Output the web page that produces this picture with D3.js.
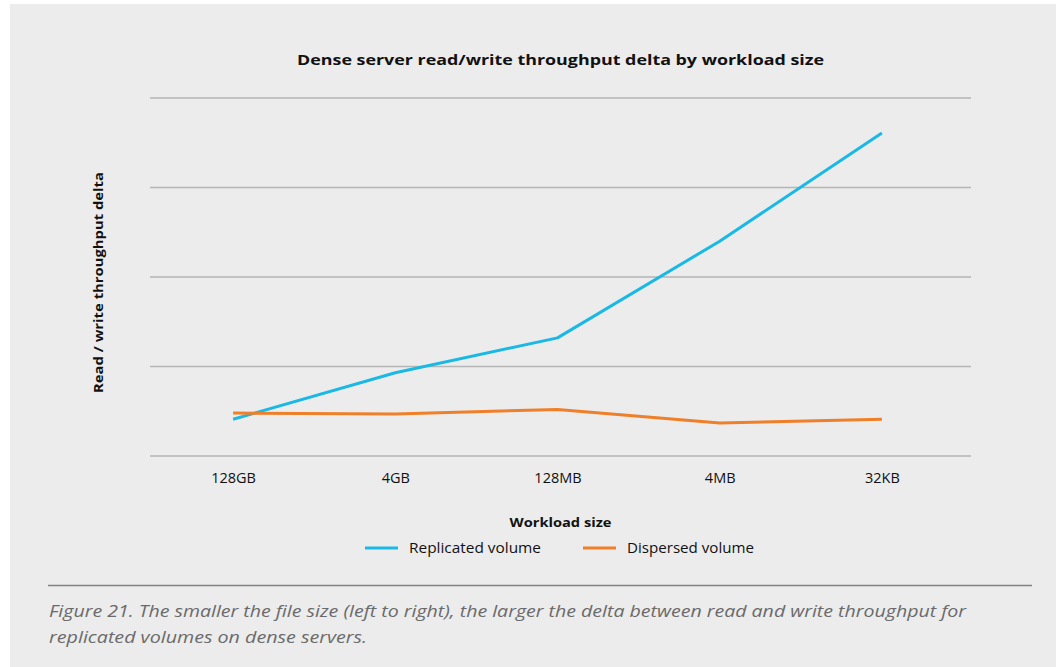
<!DOCTYPE html>
<html>
<head>
<meta charset="utf-8">
<script src="https://cdn.jsdelivr.net/npm/d3@7"></script>
<style>
html,body{margin:0;padding:0;background:#fff;}
svg{display:block;}
</style>
</head>
<body>
<script>
const categories = ["128GB", "4GB", "128MB", "4MB", "32KB"];
const replicated = [0.41, 0.93, 1.32, 2.40, 3.61];
const dispersed = [0.48, 0.47, 0.52, 0.37, 0.41];
const yTicks = [0, 1, 2, 3, 4];
const seriesNames = ["Replicated volume", "Dispersed volume"];
const seriesColors = ["#1ab9e5", "#ef7f29"];

(function () {
const W = 1059, H = 667;
const svg = d3.select("body").append("svg").attr("width", W).attr("height", H);

svg.append("rect").attr("x", 10).attr("y", 4).attr("width", 1046).attr("height", 663).attr("fill", "#ececec");

const pLeft = 150, pRight = 971, pTop = 98, pBottom = 456;
const x = d3.scalePoint().domain(categories).range([152, 963]).padding(0.5);
const y = d3.scaleLinear().domain([0, 4]).range([pBottom, pTop]);

// gridlines
svg.append("g").selectAll("line").data(yTicks).join("line")
  .attr("x1", pLeft).attr("x2", pRight)
  .attr("y1", d => y(d)).attr("y2", d => y(d))
  .attr("stroke", "#b5b5b5").attr("stroke-width", 1.5);

// x axis labels
const xAxis = d3.axisBottom(x).tickSize(0).tickPadding(0);
const gx = svg.append("g").attr("transform", `translate(0,${pBottom})`).call(xAxis);
gx.select(".domain").remove();
gx.selectAll("text").attr("y", 27).attr("dy", 0)
  .attr("font-family", "Open Sans, sans-serif").attr("font-size", 14.5).attr("fill", "#111");

// title
svg.append("text").attr("x", 560.5).attr("y", 65).attr("text-anchor", "middle")
  .attr("font-family", "Open Sans, sans-serif").attr("font-weight", "bold").attr("font-size", 15)
  .attr("fill", "#111").attr("textLength", 527).attr("lengthAdjust", "spacingAndGlyphs")
  .text("Dense server read/write throughput delta by workload size");

// y axis title
svg.append("text").attr("transform", "translate(103,282.5) rotate(-90)").attr("text-anchor", "middle")
  .attr("font-family", "Open Sans, sans-serif").attr("font-weight", "bold").attr("font-size", 13)
  .attr("fill", "#111").attr("textLength", 221).attr("lengthAdjust", "spacingAndGlyphs")
  .text("Read / write throughput delta");

// x axis title
svg.append("text").attr("x", 560.5).attr("y", 527).attr("text-anchor", "middle")
  .attr("font-family", "Open Sans, sans-serif").attr("font-weight", "bold").attr("font-size", 13)
  .attr("fill", "#111").attr("textLength", 102).attr("lengthAdjust", "spacingAndGlyphs")
  .text("Workload size");

// lines
const line = d3.line().x((d, i) => x(categories[i])).y(d => y(d));
[replicated, dispersed].forEach((s, i) => {
  svg.append("path").datum(s).attr("d", line).attr("fill", "none")
    .attr("stroke", seriesColors[i]).attr("stroke-width", 3).attr("stroke-linejoin", "round");
});

// legend
const legendX = [365, 583];
const legendTextW = [132, 127];
seriesNames.forEach((n, i) => {
  svg.append("line").attr("x1", legendX[i]).attr("x2", legendX[i] + 33).attr("y1", 548).attr("y2", 548)
    .attr("stroke", seriesColors[i]).attr("stroke-width", 3);
  svg.append("text").attr("x", legendX[i] + 44).attr("y", 553)
    .attr("font-family", "Open Sans, sans-serif").attr("font-size", 14).attr("fill", "#111")
    .attr("textLength", legendTextW[i]).attr("lengthAdjust", "spacingAndGlyphs")
    .text(n);
});

// separator
svg.append("line").attr("x1", 48).attr("x2", 1032).attr("y1", 585.5).attr("y2", 585.5)
  .attr("stroke", "#808080").attr("stroke-width", 1.5);

// caption
const cap = ["Figure 21. The smaller the file size (left to right), the larger the delta between read and write throughput for",
  "replicated volumes on dense servers."];
const capW = [917, 318];
const capY = [617, 643];
cap.forEach((c, i) => {
  svg.append("text").attr("x", 49).attr("y", capY[i])
    .attr("font-family", "Open Sans, sans-serif").attr("font-style", "italic").attr("font-size", 16)
    .attr("fill", "#6a6a6a").attr("textLength", capW[i]).attr("lengthAdjust", "spacingAndGlyphs")
    .text(c);
});
})();
</script>
</body>
</html>
